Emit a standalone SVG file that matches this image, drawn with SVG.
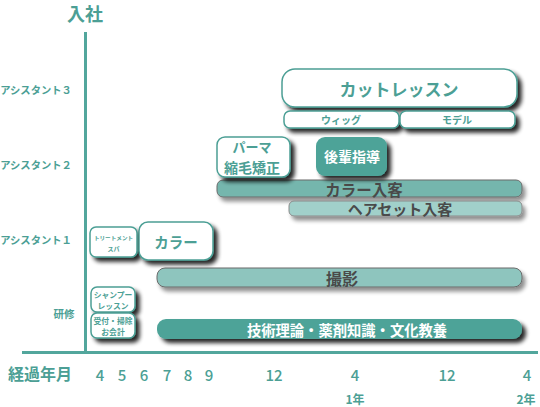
<svg xmlns="http://www.w3.org/2000/svg" width="540" height="407" viewBox="0 0 540 407">
<defs>
<filter id="sh" x="-20%" y="-30%" width="150%" height="180%">
<feGaussianBlur in="SourceAlpha" stdDeviation="2"/>
<feOffset dx="4" dy="4" result="b"/>
<feComponentTransfer><feFuncA type="linear" slope="0.85"/></feComponentTransfer>
<feMerge><feMergeNode/><feMergeNode in="SourceGraphic"/></feMerge>
</filter>
<filter id="shl" x="-5%" y="-40%" width="110%" height="200%">
<feGaussianBlur in="SourceAlpha" stdDeviation="2"/>
<feOffset dx="3" dy="4" result="b"/>
<feComponentTransfer><feFuncA type="linear" slope="0.45"/></feComponentTransfer>
<feMerge><feMergeNode/><feMergeNode in="SourceGraphic"/></feMerge>
</filter>
</defs>
<style>
text{font-family:"Noto Sans CJK JP","Noto Sans",sans-serif;font-weight:bold;text-anchor:middle;dominant-baseline:central}
.t{fill:#4c9f95}
.w{fill:#ffffff}
.d{fill:#4a4a4a}
.n{font-weight:500}
.box{fill:#ffffff;stroke:#4c9f95;stroke-width:1.5}
.axis{stroke:#52a69c;stroke-width:3}
</style>
<rect width="540" height="407" fill="#ffffff"/>
<g id="axes">
<line class="axis" x1="85.5" y1="32" x2="85.5" y2="354"/>
<line class="axis" x1="22" y1="352.5" x2="538" y2="352.5"/>
</g>
<g id="labels">
<text class="t" x="85" y="12.5" font-size="18">入社</text>
<text class="t" x="36" y="89" font-size="10.3">アシスタント３</text>
<text class="t" x="36" y="164" font-size="10.3">アシスタント２</text>
<text class="t" x="36" y="239" font-size="10.3">アシスタント１</text>
<text class="t" x="64" y="313" font-size="10.5">研修</text>
<text class="t" x="40" y="373" font-size="16">経過年月</text>
<text class="t n" x="100" y="374" font-size="15">4</text>
<text class="t n" x="122" y="374" font-size="15">5</text>
<text class="t n" x="144" y="374" font-size="15">6</text>
<text class="t n" x="167" y="374" font-size="15">7</text>
<text class="t n" x="188" y="374" font-size="15">8</text>
<text class="t n" x="209" y="374" font-size="15">9</text>
<text class="t n" x="274" y="374" font-size="15">12</text>
<text class="t n" x="355" y="374" font-size="15">4</text>
<text class="t n" x="447" y="374" font-size="15">12</text>
<text class="t n" x="527" y="374" font-size="15">4</text>
<text class="t" x="355" y="398.5" font-size="12">1年</text>
<text class="t" x="526" y="398.5" font-size="12">2年</text>
</g>
<g id="connectors"></g>
<g id="bar-kyoyo">
<rect x="157" y="319" width="365" height="20" rx="9" fill="#4ea398" filter="url(#sh)"/>
<text class="w" x="347" y="329" font-size="14.3">技術理論・薬剤知識・文化教養</text>
</g>
<g id="bar-satsuei">
<rect x="157" y="268" width="365" height="19" rx="8" fill="#8ec5be" stroke="#6b6b6b" stroke-width="1" filter="url(#shl)"/>
<text class="d" x="342" y="277.5" font-size="16">撮影</text>
</g>
<g id="bar-color">
<rect x="217" y="180" width="305" height="17" rx="6" fill="#74b6ad" stroke="#6b6b6b" stroke-width="1" filter="url(#shl)"/>
<text class="d" x="364" y="188.5" font-size="15.5">カラー入客</text>
</g>
<g id="bar-hairset">
<rect x="289" y="201" width="233" height="15" rx="5" fill="#a1d0ca" stroke="#8a8a8a" stroke-width="1" filter="url(#shl)"/>
<text class="d" x="400" y="208.5" font-size="15">ヘアセット入客</text>
</g>
<g id="node-cut">
<rect class="box" x="282" y="69" width="235" height="38" rx="13" filter="url(#sh)"/>
<text class="t" x="399" y="88" font-size="17">カットレッスン</text>
</g>
<g id="node-wig">
<rect class="box" x="284" y="111" width="115" height="17" rx="6" filter="url(#sh)"/>
<text class="t" x="341" y="119.5" font-size="10">ウィッグ</text>
</g>
<g id="node-model">
<rect class="box" x="400" y="111" width="115" height="17" rx="6" filter="url(#sh)"/>
<text class="t" x="457" y="119.5" font-size="10">モデル</text>
</g>
<g id="node-perm">
<rect class="box" x="217" y="137" width="73" height="40" rx="8" filter="url(#sh)"/>
<text class="t" x="252" y="146" font-size="13">パーマ</text>
<text class="t" x="252" y="167" font-size="14">縮毛矯正</text>
</g>
<g id="node-kohai">
<rect x="316" y="137" width="71" height="39" rx="9" fill="#4ea398" filter="url(#sh)"/>
<text class="w" x="352" y="156" font-size="14">後輩指導</text>
</g>
<g id="node-treatment">
<rect class="box" x="90" y="227" width="47" height="30" rx="6" filter="url(#sh)"/>
<text class="t" x="113.5" y="238" font-size="5.6">トリートメント</text>
<text class="t" x="113.5" y="248" font-size="6">スパ</text>
</g>
<g id="node-color">
<rect class="box" x="139" y="222" width="74" height="38" rx="9" filter="url(#sh)"/>
<text class="t" x="176" y="241" font-size="14.5">カラー</text>
</g>
<g id="node-shampoo">
<rect class="box" x="91" y="287" width="44" height="25" rx="6" filter="url(#sh)"/>
<text class="t" x="113" y="294" font-size="7.8">シャンプー</text>
<text class="t" x="113" y="305" font-size="7.8">レッスン</text>
</g>
<g id="node-uketsuke">
<rect class="box" x="91" y="313" width="44" height="25" rx="6" filter="url(#sh)"/>
<text class="t" x="113" y="320" font-size="7.8">受付・掃除</text>
<text class="t" x="113" y="331" font-size="7.8">お会計</text>
</g>
</svg>
